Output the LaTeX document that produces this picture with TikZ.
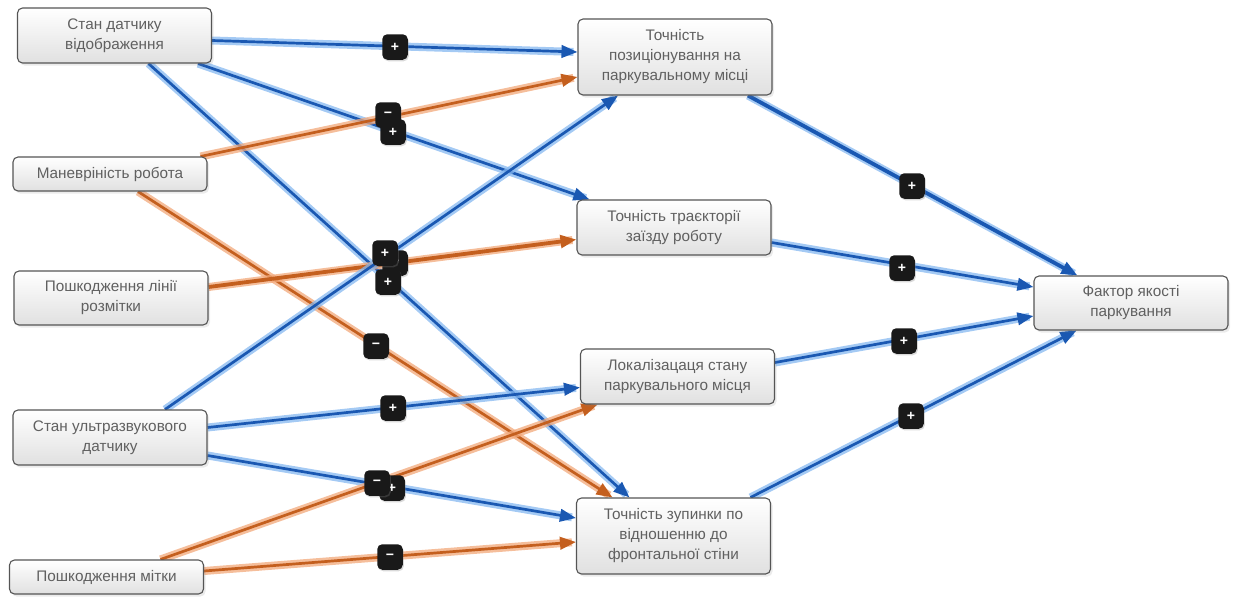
\documentclass[tikz,border=0pt]{standalone}
\usepackage{fontspec}
\setmainfont{Liberation Sans}
\usetikzlibrary{arrows.meta,shadows}
\definecolor{linkblue}{HTML}{1A58B2}
\definecolor{glowblue}{HTML}{86B8F0}
\definecolor{linkorange}{HTML}{C45F1E}
\definecolor{gloworange}{HTML}{F2A87A}
\definecolor{boxedge}{HTML}{555555}
\definecolor{boxtext}{HTML}{606060}
\pgfdeclarelayer{links}
\pgfsetlayers{links,main}
\begin{document}
\begin{tikzpicture}[x=1pt,y=-1pt,
  box/.style={draw=boxedge, line width=1.1pt, rounded corners=5pt,
    top color=white, bottom color=black!12, text=boxtext,
    align=center, minimum width=194pt, inner sep=2pt,
    font=\fontsize{15.3}{20}\selectfont,
    drop shadow={shadow xshift=2pt, shadow yshift=-2.5pt, opacity=.16}},
  tip/.style={-{Triangle[length=16pt,width=12.5pt]}},
  pluslink/.style={tip, draw=linkblue, line width=2.7pt,
    preaction={draw=glowblue, line width=8pt, opacity=.75, -, shorten >=4pt}},
  minuslink/.style={tip, draw=linkorange, line width=2.7pt,
    preaction={draw=gloworange, line width=8pt, opacity=.75, -, shorten >=4pt}},
  heavy/.style={line width=3.8pt, preaction={line width=10pt}},
  badge/.style={fill=black!90, rounded corners=5pt, minimum size=25.5pt,
    inner sep=0pt, text=white, font=\bfseries\fontsize{14}{14}\selectfont,
    drop shadow={shadow xshift=1pt, shadow yshift=-1.5pt, opacity=.3}}]
\useasboundingbox (0,0) rectangle (1235,597);

% factor boxes
\node[box, minimum height=55pt] (s1) at (114.5,35.5) {Стан датчику\\відображення};
\node[box, minimum height=34pt] (s2) at (110,174) {Маневріність робота};
\node[box, minimum height=54pt] (s3) at (111,298) {Пошкодження лінії\\розмітки};
\node[box, minimum height=55pt] (s4) at (110,437.5) {Стан ультразвукового\\датчику};
\node[box, minimum height=34pt] (s5) at (106.5,577) {Пошкодження мітки};

\node[box, minimum height=76pt] (m1) at (675,57) {Точність\\позиціонування на\\паркувальному місці};
\node[box, minimum height=55pt] (m2) at (674,227.5) {Точність траєкторії\\заїзду роботу};
\node[box, minimum height=55pt] (m3) at (677.5,376.5) {Локалізацаця стану\\паркувального місця};
\node[box, minimum height=76pt] (m4) at (673.5,536) {Точність зупинки по\\відношенню до\\фронтальної стіни};

\node[box, minimum height=54pt] (f) at (1131,303) {Фактор якості\\паркування};

% influence links
\begin{pgfonlayer}{links}
\draw[pluslink]  ([yshift=-5pt]s1.east) -- ([yshift=5pt]m1.west);
\draw[pluslink]  ([xshift=-14pt]s1.south east) -- ([xshift=13pt]m2.north west);
\draw[pluslink]  ([xshift=34pt]s1.south) -- ([xshift=-44pt]m4.north);
\draw[minuslink] ([xshift=-7pt]s2.north east) -- ([yshift=-20pt]m1.west);
\draw[minuslink] ([xshift=28pt]s2.south) -- ([xshift=-61pt]m4.north);
\draw[minuslink, heavy] ([yshift=11pt]s3.east) -- ([yshift=-12pt]m2.west);
\draw[pluslink]  ([xshift=55pt]s4.north) -- ([xshift=-57pt]m1.south);
\draw[pluslink]  ([yshift=10pt]s4.east) -- ([yshift=-11pt]m3.west);
\draw[pluslink]  ([yshift=-18pt]s4.east) -- ([yshift=18pt]m4.west);
\draw[minuslink] ([xshift=54pt]s5.north) -- ([xshift=-80pt]m3.south);
\draw[minuslink] ([yshift=6pt]s5.east) -- ([yshift=-6pt]m4.west);
\draw[pluslink, heavy] ([xshift=73pt]m1.south) -- ([xshift=44pt]f.north west);
\draw[pluslink]  ([yshift=-15pt]m2.east) -- ([yshift=16pt]f.west);
\draw[pluslink]  ([yshift=14pt]m3.east) -- ([yshift=-13pt]f.west);
\draw[pluslink]  ([xshift=77pt]m4.north) -- ([xshift=43pt]f.south west);
\end{pgfonlayer}

% sign badges
\node[badge] (b16) at (395,47) {+};
\node[badge] (b26) at (388,115) {−};
\node[badge] (b17) at (393,132) {+};
\node[badge] (b37) at (395,263) {−};
\node[badge] (b46) at (385,253) {+};
\node[badge] (b19) at (388,282) {+};
\node[badge] (b29) at (376,346) {−};
\node[badge] (b48) at (393,408) {+};
\node[badge] (b49) at (392,488) {+};
\node[badge] (b58) at (377,483) {−};
\node[badge] (b59) at (390,557) {−};
\node[badge] (bm1) at (912,186) {+};
\node[badge] (bm2) at (902,268) {+};
\node[badge] (bm3) at (904,341) {+};
\node[badge] (bm4) at (911,416) {+};
\end{tikzpicture}
\end{document}
